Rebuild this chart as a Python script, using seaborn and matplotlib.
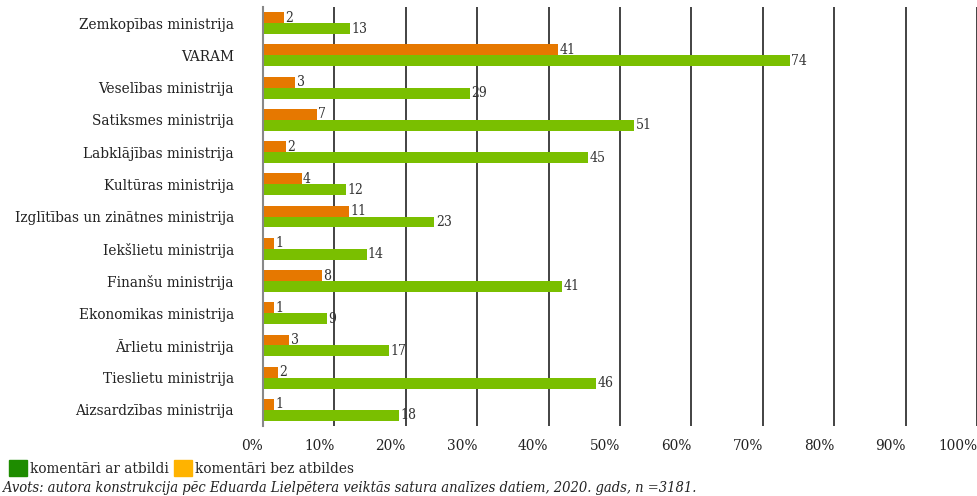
import pandas as pd
import matplotlib
matplotlib.use('Agg')
import matplotlib.pyplot as plt
from matplotlib.patches import Patch
from matplotlib.ticker import FuncFormatter
import seaborn as sns

# dati no attēla
ministrijas = [
    'Zemkopības ministrija', 'VARAM', 'Veselības ministrija', 'Satiksmes ministrija',
    'Labklājības ministrija', 'Kultūras ministrija', 'Izglītības un zinātnes ministrija',
    'Iekšlietu ministrija', 'Finanšu ministrija', 'Ekonomikas ministrija',
    'Ārlietu ministrija', 'Tieslietu ministrija', 'Aizsardzības ministrija',
]
bez_atbildes_pct = [2.9, 41.3, 4.5, 7.5, 3.2, 5.4, 12.0, 1.5, 8.2, 1.5, 3.7, 2.1, 1.5]
ar_atbildi_pct = [12.2, 73.8, 29.0, 52.0, 45.5, 11.6, 24.0, 14.5, 41.9, 8.9, 17.6, 46.7, 19.0]
bez_atbildes_sk = [2, 41, 3, 7, 2, 4, 11, 1, 8, 1, 3, 2, 1]
ar_atbildi_sk = [13, 74, 29, 51, 45, 12, 23, 14, 41, 9, 17, 46, 18]

veidi = ['komentāri bez atbildes', 'komentāri ar atbildi']
bar_krasas = ['#E67800', '#7ABF00']
legend_krasas = {'komentāri ar atbildi': '#1E8C00', 'komentāri bez atbildes': '#FFB300'}

df = pd.DataFrame({
    'ministrija': ministrijas * 2,
    'veids': [veidi[0]] * len(ministrijas) + [veidi[1]] * len(ministrijas),
    'pct': bez_atbildes_pct + ar_atbildi_pct,
})

sns.set_theme(style='white')
plt.rcParams['font.family'] = ['DejaVu Serif']
plt.rcParams['font.stretch'] = 'condensed'
plt.rcParams['font.size'] = 9

fig = plt.figure(figsize=(9.78, 4.96), dpi=100)
ax = fig.add_axes([0.2689, 0.141, 0.7301, 0.845])

sns.barplot(data=df, y='ministrija', x='pct', hue='veids', hue_order=veidi,
            palette=bar_krasas, width=0.68, orient='h', legend=False,
            saturation=1, linewidth=0, ax=ax)

for cont, sk in zip(ax.containers, [bez_atbildes_sk, ar_atbildi_sk]):
    ax.bar_label(cont, labels=[str(v) for v in sk], padding=1, fontsize=10, color='#333333')

ax.set_xlim(0, 100)
ax.set_xticks(range(0, 101, 10))
ax.xaxis.set_major_formatter(FuncFormatter(lambda v, p: f'{int(v)}%'))
for lbl in ax.get_xticklabels():
    lbl.set_horizontalalignment('right')
ax.grid(axis='x', color='#222222', linewidth=1.2)
ax.set_axisbelow(True)
ax.tick_params(axis='x', length=7, width=1.2, color='#222222', labelsize=11, pad=2,
               labelcolor='#222222')
ax.tick_params(axis='y', length=0, labelsize=11, pad=21, labelcolor='#222222')
for s in ['top', 'right', 'bottom']:
    ax.spines[s].set_visible(False)
ax.spines['left'].set_color('#888888')
ax.spines['left'].set_linewidth(1.5)
ax.set_xlabel('')
ax.set_ylabel('')

handles = [Patch(color=legend_krasas['komentāri ar atbildi'], label='komentāri ar atbildi'),
           Patch(color=legend_krasas['komentāri bez atbildes'], label='komentāri bez atbildes')]
fig.legend(handles=handles, loc='lower left', bbox_to_anchor=(0.009, 0.04), ncol=2,
           frameon=False, fontsize=11, handlelength=1.2, handleheight=1.2,
           handletextpad=0.2, columnspacing=0.3, borderpad=0, borderaxespad=0)
fig.text(0.003, 0.008, 'Avots: autora konstrukcija pēc Eduarda Lielpētera veiktās satura analīzes datiem, 2020. gads, n =3181.',
         style='italic', fontsize=10.5, color='#222222')

fig.savefig('out.png', dpi=100)
